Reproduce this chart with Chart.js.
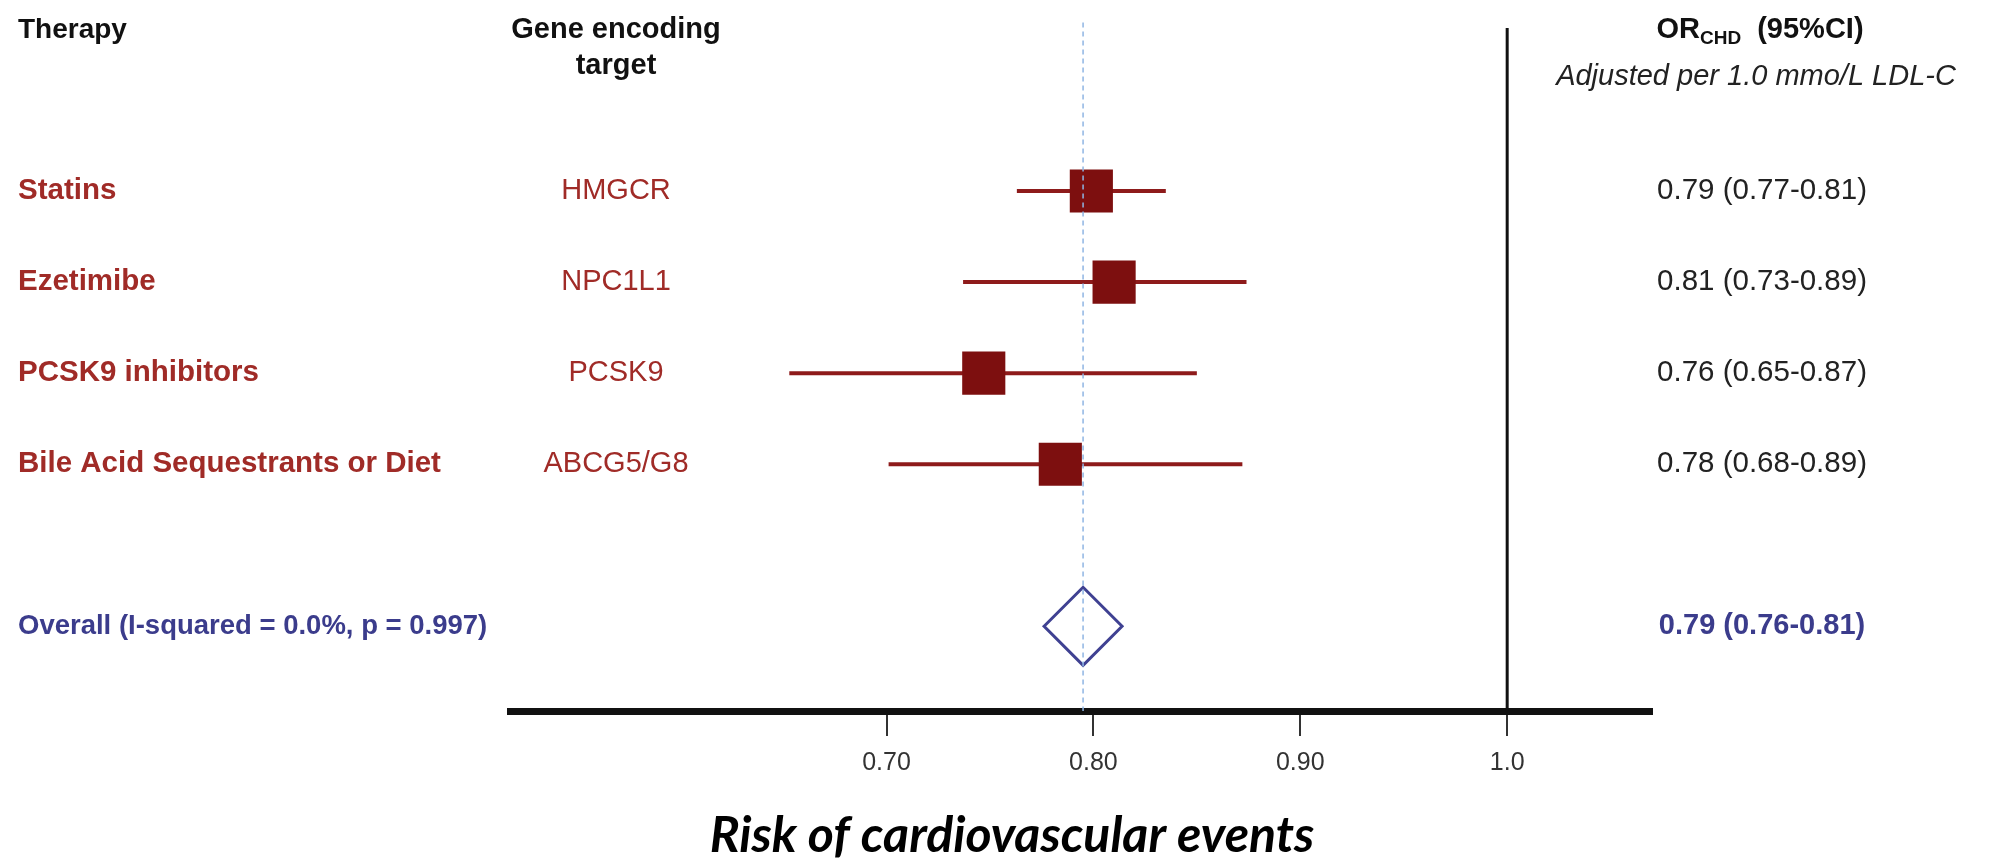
<!DOCTYPE html>
<html>
<head>
<meta charset="utf-8">
<title>LDL-C lowering therapies - forest plot</title>
<script src="https://cdn.jsdelivr.net/npm/chart.js"></script>
<style>
    body { margin: 0; background: #fff; }
</style>
</head>
<body>
<canvas id="forestChart" width="1994" height="860"></canvas>
<script>
var therapies = ['Statins', 'Ezetimibe', 'PCSK9 inhibitors', 'Bile Acid Sequestrants or Diet'];
var genes = ['HMGCR', 'NPC1L1', 'PCSK9', 'ABCG5/G8'];
var orLabels = ['0.79 (0.77-0.81)', '0.81 (0.73-0.89)', '0.76 (0.65-0.87)', '0.78 (0.68-0.89)'];
// where the markers sit on the axis in the picture
var estimates = [0.799, 0.810, 0.747, 0.784];
var lowerCI = [0.763, 0.737, 0.653, 0.701];
var upperCI = [0.835, 0.874, 0.850, 0.872];
var overallLabel = 'Overall (I-squared = 0.0%, p = 0.997)';
var overallOR = '0.79 (0.76-0.81)';
var overallEstimate = 0.795;
var tickValues = [0.70, 0.80, 0.90, 1.0];
var tickLabels = ['0.70', '0.80', '0.90', '1.0'];

var OVERALL_ROW = 5.78;   // overall sits a bit lower than the 4 therapy rows
var RED = '#a02b27';
var NAVY = '#3b3c8c';
var FONT = '"Liberation Sans", Arial, sans-serif';

document.addEventListener('DOMContentLoaded', function () {
    var ctx = document.getElementById('forestChart').getContext('2d');

    // one short line per confidence interval
    var ciSets = therapies.map(function (t, i) {
        return {
            type: 'line',
            data: [{ x: lowerCI[i], y: i + 1 }, { x: upperCI[i], y: i + 1 }],
            borderColor: '#8e1b1b',
            borderWidth: 4,
            pointRadius: 0,
            order: 3
        };
    });

    var textPlugin = {
        id: 'forestText',
        afterDraw: function (chart) {
            var c = chart.ctx;
            var y = chart.scales.y;
            c.save();
            c.textBaseline = 'middle';

            // headers
            c.fillStyle = '#111';
            c.font = 'bold 28px ' + FONT;
            c.textAlign = 'left';
            c.fillText('Therapy', 18, 30);
            c.textAlign = 'center';
            c.font = 'bold 29px ' + FONT;
            c.fillText('Gene encoding', 616, 30);
            c.fillText('target', 616, 66);

            // OR_CHD (95%CI) with subscript
            var big = 'bold 29px ' + FONT;
            var small = 'bold 19px ' + FONT;
            c.font = big; var w1 = c.measureText('OR').width;
            c.font = small; var w2 = c.measureText('CHD').width;
            c.font = big; var w3 = c.measureText('  (95%CI)').width;
            var sx = 1760 - (w1 + w2 + w3) / 2;
            c.textAlign = 'left';
            c.font = big; c.fillText('OR', sx, 30);
            c.font = small; c.fillText('CHD', sx + w1, 39);
            c.font = big; c.fillText('  (95%CI)', sx + w1 + w2, 30);

            c.textAlign = 'center';
            c.fillStyle = '#222';
            c.font = 'italic 29px ' + FONT;
            c.fillText('Adjusted per 1.0 mmo/L LDL-C', 1756, 77);

            // therapy rows
            therapies.forEach(function (t, i) {
                var py = y.getPixelForValue(i + 1);
                c.fillStyle = RED;
                c.textAlign = 'left';
                c.font = 'bold 29.5px ' + FONT;
                c.fillText(t, 18, py);
                c.textAlign = 'center';
                c.font = '29px ' + FONT;
                c.fillText(genes[i], 616, py);
                c.fillStyle = '#222';
                c.font = '29.5px ' + FONT;
                c.fillText(orLabels[i], 1762, py);
            });

            // overall row
            var oy = y.getPixelForValue(OVERALL_ROW);
            c.fillStyle = NAVY;
            c.font = 'bold 27.5px ' + FONT;
            c.textAlign = 'left';
            c.fillText(overallLabel, 18, oy);
            c.textAlign = 'center';
            c.font = 'bold 29px ' + FONT;
            c.fillText(overallOR, 1762, oy);

            // axis caption
            c.fillStyle = '#000';
            c.font = 'italic bold 50px Lato, "Open Sans", sans-serif';
            c.fillText('Risk of cardiovascular events', 1012, 836);
            c.restore();
        }
    };

    new Chart(ctx, {
        type: 'scatter',
        data: {
            datasets: [
                {
                    // dashed line through the pooled estimate
                    type: 'line',
                    data: [{ x: overallEstimate, y: -0.85 }, { x: overallEstimate, y: 6.71 }],
                    borderColor: '#8fb5e3',
                    borderWidth: 1.5,
                    borderDash: [5, 4],
                    pointRadius: 0,
                    clip: false,
                    order: 0
                },
                {
                    // line of no effect
                    type: 'line',
                    data: [{ x: 1.0, y: -0.79 }, { x: 1.0, y: 6.71 }],
                    borderColor: '#111',
                    borderWidth: 3,
                    pointRadius: 0,
                    order: 4
                }
            ].concat(ciSets).concat([
                {
                    data: estimates.map(function (v, i) { return { x: v, y: i + 1 }; }),
                    pointStyle: 'rect',
                    pointRadius: 30.5,
                    pointHoverRadius: 30.5,
                    backgroundColor: '#7d0f0f',
                    borderWidth: 0,
                    order: 1
                },
                {
                    data: [{ x: overallEstimate, y: OVERALL_ROW }],
                    pointStyle: 'rectRot',
                    pointRadius: 39,
                    pointHoverRadius: 39,
                    backgroundColor: 'rgba(255,255,255,0)',
                    borderColor: '#3f4192',
                    borderWidth: 3,
                    order: 2
                }
            ])
        },
        options: {
            responsive: false,
            animation: false,
            layout: { autoPadding: false, padding: { left: 510, right: 342, top: 28, bottom: 0 } },
            plugins: { legend: { display: false }, tooltip: { enabled: false } },
            scales: {
                x: {
                    type: 'linear',
                    min: 0.518,
                    max: 1.07,
                    afterFit: function (scale) { scale.height = 149; },
                    afterBuildTicks: function (scale) {
                        scale.ticks = tickValues.map(function (v) { return { value: v }; });
                    },
                    border: { display: true, color: '#111', width: 7 },
                    grid: { drawOnChartArea: false, drawTicks: true, tickLength: 25, color: '#333', lineWidth: 2 },
                    ticks: {
                        autoSkip: false,
                        maxRotation: 0,
                        padding: 12,
                        color: '#333',
                        font: { family: FONT, size: 25 },
                        callback: function (value) {
                            var k = tickValues.indexOf(value);
                            return k >= 0 ? tickLabels[k] : '';
                        }
                    }
                },
                y: {
                    type: 'linear',
                    display: false,
                    reverse: true,
                    min: -0.79,
                    max: 6.71
                }
            }
        },
        plugins: [textPlugin]
    });
});
</script>
</body>
</html>
